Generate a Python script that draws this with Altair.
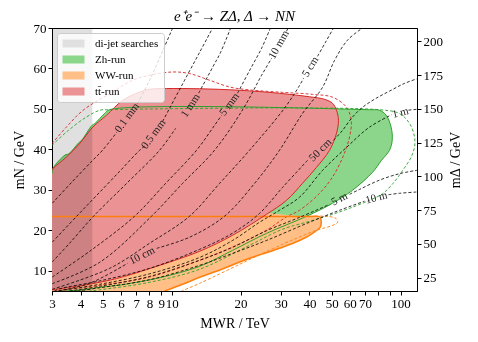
import altair as alt
import pandas as pd

FONT = "Liberation Serif"

# ---------------- axis ranges / ticks ----------------
X_DOMAIN = [3, 118]
MN_DOMAIN = [5, 70]
MD_DOMAIN = [15, 210]
x_tick_values = [3, 4, 5, 6, 7, 8, 9, 10, 20, 30, 40, 50, 60, 70, 80, 90, 100]
x_tick_hidden = [80, 90]
mn_tick_values = [10, 20, 30, 40, 50, 60, 70]
md_tick_values = [25, 50, 75, 100, 125, 150, 175, 200]

categories = ["di-jet searches", "Zh-run", "WW-run", "tt\u0304-run"]
fill_colors = ["#e0e0e0", "#8bd68b", "#ffbf87", "#eb9394"]

# ---------------- di-jet band ----------------
dijet_M = [3.0, 4.5]

# ---------------- Zh-run region (solid) ----------------
zh_M = [3.0, 3.0, 3.03, 3.42, 3.55, 3.92, 4.05, 4.48, 4.62, 5.1, 5.35, 73.17, 80.93, 86.56, 91.0,
        91.95, 89.47, 82.56, 75.44, 61.68, 50.46, 38.85, 25.98, 18.46, 13.25, 9.04, 6.75, 5.85,
        4.85, 4.17, 3.45]
zh_m = [5.0, 34.0, 35.3, 38.6, 38.9, 41.6, 42.3, 45.9, 46.4, 48.9, 49.8, 49.8, 49.66, 48.43, 45.46,
        42.25, 39.78, 37.30, 34.34, 29.89, 26.68, 23.46, 19.26, 15.06, 11.1, 8.39, 6.98, 6.41,
        5.91, 5.35, 5.0]

# ---------------- WW-run region (solid) ----------------
ww_M = [3.0, 3.0, 40.04, 44.27, 44.95, 44.6, 41.26, 36.2, 29.6, 21.9, 15.67, 13.25, 11.16, 9.32]
ww_m = [5.0, 23.4, 23.4, 23.35, 22.47, 20.82, 19.26, 17.47, 15.55, 13.08, 9.87, 8.39, 6.66, 5.0]

# ---------------- tt-run region (solid) ----------------
tt_M = [3.0, 3.03, 3.47, 3.96, 4.53, 5.19, 6.11, 7.25, 8.01, 9.48, 13.25, 19.81, 29.6, 40.04, 46.55,
        50.46, 52.5, 53.55, 52.5, 48.95, 42.95, 37.3, 31.77, 25.98, 18.46, 13.25, 8.01, 5.73, 4.10, 3.0]
tt_m = [34.83, 35.25, 38.12, 41.43, 45.53, 48.43, 52.13, 54.18, 54.85, 55.03, 54.98, 54.61, 53.86, 53.0,
        52.38, 51.39, 49.66, 47.19, 43.98, 39.78, 35.57, 31.62, 27.42, 23.96, 18.77, 14.81, 10.54,
        8.06, 6.41, 5.3]

# ---------------- dashed outlines ----------------
tt_dash_M = [3.0, 3.47, 4.10, 5.36, 6.75, 8.01, 10.10, 11.98, 14.65, 17.91, 21.9, 30.5, 41.26, 50.46,
             57.9, 60.88, 59.85, 55.96, 50.46, 44.27, 36.2, 31.67, 25.91, 18.46, 13.25, 8.01, 4.85,
             3.47, 3.08]
tt_dash_m = [41.43, 45.53, 49.66, 53.79, 57.08, 58.31, 59.13, 58.73, 57.08, 55.42, 54.7, 54.1, 53.6,
             52.9, 50.48, 47.19, 43.06, 38.12, 33.18, 29.15, 24.95, 23.29, 20.0, 15.87, 12.59, 8.46,
             6.41, 5.35, 5.0]
zh_dash_M = [3.0, 3.47, 4.24, 4.85, 5.36, 80.93, 98.95, 109.4, 115.1, 115.1, 111.3, 102.3, 92.5, 83.6,
             73.17, 59.85, 48.95, 40.04, 30.5, 21.9, 13.25, 8.01, 4.85, 4.38]
zh_dash_m = [41.0, 44.3, 48.0, 49.66, 49.8, 49.8, 48.85, 46.45, 43.06, 40.59, 38.12, 34.83, 31.54, 29.07,
             27.42, 25.44, 23.71, 22.23, 20.25, 16.30, 10.37, 7.15, 5.30, 5.0]
ww_dash_M = [36.2, 48.95, 52.36, 53.2, 50.6, 42.8, 36.2, 30.5, 23.43, 19.81, 13.25, 11.05]
ww_dash_m = [23.4, 23.4, 22.89, 22.05, 21.24, 20.0, 18.35, 16.54, 13.58, 11.6, 6.9, 5.0]

# ---------------- decay-length contours (None = label gap) ----------------
c01mm_M = [3.01, 3.69, 4.52, 4.99, 5.75, None, 7.10, 8.01, 9.04, 10.1]
c01mm_m = [26.7, 32.1, 37.3, 39.8, 44.2, None, 51.4, 57.1, 63.75, 70]
c05mm_M = [3.01, 3.85, 4.66, 5.93, 7.25, 7.62, None, 9.13, 9.80, 11.39, 13.25, 15.1]
c05mm_m = [17.1, 23.5, 28.4, 34.6, 39.8, 40.8, None, 46.9, 50.2, 57.1, 64.0, 70]
c1mm_M = [3.01, 3.58, 4.56, 6.36, 8.86, 10.41, None, 13.12, 15.1, 16.36, 18.1]
c1mm_m = [12.2, 16.8, 23.5, 31.6, 39.8, 45.2, None, 53.9, 60.3, 64.0, 70]
c5mm_M = [3.01, 4.38, 6.89, 9.41, 12.85, 15.4, 16.52, None, 19.41, 21.9, 24.71, 27.0]
c5mm_m = [8.46, 14.8, 23.5, 31.6, 39.8, 45.96, 48.4, None, 53.9, 59.5, 65.0, 70]
c10mm_M = [3.01, 4.85, 8.17, 11.16, 15.4, 20.62, 24.71, 27.32, None, 31.77, 32.25]
c10mm_m = [6.83, 12.1, 23.5, 31.6, 39.8, 50.2, 58.3, 62.5, None, 69.2, 70]
c5cm_M = [3.01, 5.36, 8.01, 11.98, 16.2, 21.9, 31.12, 36.2, 37.69, None, 43.39, 47.02, 50.96]
c5cm_m = [5.42, 10.6, 16.8, 23.5, 31.6, 39.8, 50.2, 55.8, 57.6, None, 63.0, 66.5, 70]
c10cm_M = [3.18, 4.38, 6.42, None, 8.60, 11.98, 17.03, 23.03, 29.6, 37.32, 45.63, 51.48, 58.67, 68.2]
c10cm_m = [5.0, 6.9, 11.85, None, 15.55, 18.3, 23.5, 31.6, 39.8, 48.9, 55.35, 62.0, 67.0, 70]
c50cm_M = [3.08, 3.24, 4.85, 8.01, 13.25, 18.46, 24.22, 30.51, 39.25, None, 50.96, 55.79, 61.06, 67.54,
           76.94, 89.47, 104.0, 118]
c50cm_m = [5.0, 5.54, 7.5, 10.6, 15.3, 19.3, 24.2, 30.6, 37.3, None, 42.25, 44.7, 47.7, 50.2, 52.4,
           54.4, 56.3, 57.45]
c1m_M = [3.24, 4.85, 8.01, 13.25, 18.46, 24.22, 29.6, 36.2, 45.63, 58.07, 73.17, 91.3, None, 108.3, 118]
c1m_m = [5.1, 6.66, 9.25, 13.3, 17.5, 22.0, 24.95, 28.2, 34.8, 40.5, 45.5, 48.55, None, 49.7, 49.9]
c5m_M = [3.58, 4.85, 8.01, 13.25, 18.46, 25.98, 36.2, 48.95, None, 59.85, 66.18, 80.93, 98.95, 118]
c5m_m = [5.0, 6.16, 8.6, 12.6, 15.8, 19.9, 23.2, 26.4, None, 28.9, 30.1, 32.4, 34.0, 34.83]
c10m_M = [3.88, 4.85, 8.01, 13.25, 18.46, 25.98, 40.04, 54.13, 69.59, None, 88.6, 98.95, 118]
c10m_m = [5.0, 5.8, 7.8, 11.35, 14.3, 17.5, 22.0, 24.95, 27.2, None, 28.8, 29.15, 29.47]

label_text = ["0.1 mm", "0.5 mm", "1 mm", "5 mm", "10 mm", "5 cm", "10 cm", "50 cm", "1 m", "5 m", "10 m"]
label_M = [6.39, 8.34, 12.1, 17.91, 29.45, 40.45, 7.43, 44.73, 99.95, 54.13, 78.52]
label_m = [47.8, 43.7, 50.8, 51.1, 65.85, 60.4, 13.7, 39.8, 49.0, 27.7, 28.0]
label_angle = [306, 306, 303, 306, 299, 302, 333, 315, 345, 333, 345]

contours = [
    ("0.1 mm", c01mm_M, c01mm_m), ("0.5 mm", c05mm_M, c05mm_m), ("1 mm", c1mm_M, c1mm_m),
    ("5 mm", c5mm_M, c5mm_m), ("10 mm", c10mm_M, c10mm_m), ("5 cm", c5cm_M, c5cm_m),
    ("10 cm", c10cm_M, c10cm_m), ("50 cm", c50cm_M, c50cm_m), ("1 m", c1m_M, c1m_m),
    ("5 m", c5m_M, c5m_m), ("10 m", c10m_M, c10m_m),
]

# ---------------- tables ----------------
def path_df(Ms, ms, cat=""):
    return pd.DataFrame({"M": Ms, "m": ms, "i": list(range(len(Ms))), "cat": cat})

rows = []
for name, Ms, ms in contours:
    seg = 0
    k = 0
    for a, b in zip(Ms, ms):
        if a is None:
            seg += 1
            continue
        rows.append({"M": a, "m": b, "seg": f"{name}-{seg}", "i": k})
        k += 1
contour_df = pd.DataFrame(rows)
label_df = pd.DataFrame({"M": label_M, "m": label_m, "t": label_text, "a": label_angle})

# ---------------- encodings ----------------
hidden_expr = " || ".join(f"datum.value == {v}" for v in x_tick_hidden)
axis_common = dict(labelFont=FONT, labelFontSize=13, labelColor="black", titleFont=FONT,
                   titleFontSize=14, titleFontWeight="normal", titleColor="black", tickColor="black",
                   domainColor="black", tickSize=4, grid=False, labelFlush=False, labelOverlap=False)
xscale = alt.Scale(type="log", domain=X_DOMAIN, nice=False)
yscale = alt.Scale(domain=MN_DOMAIN, nice=False, zero=False)
X = alt.X("M:Q", scale=xscale, axis=alt.Axis(values=x_tick_values, format="d",
          labelExpr=f"({hidden_expr}) ? '' : datum.label", title="MWR / TeV",
          labelPadding=2, titlePadding=6, **axis_common))
Y = alt.Y("m:Q", scale=yscale, axis=alt.Axis(values=mn_tick_values, title="mN / GeV",
          labelPadding=2, titlePadding=7, **axis_common))
cscale = alt.Scale(domain=categories, range=fill_colors)

legend = alt.Legend(title=None, orient="top-left", offset=5, padding=5,
                    fillColor="rgba(255,255,255,0.8)", strokeColor="#cccccc", cornerRadius=3,
                    symbolType="M-2.2,-0.8H2.2V0.8H-2.2Z", symbolSize=100, symbolStrokeWidth=0,
                    symbolOffset=6, labelOffset=16, labelFont=FONT, labelFontSize=11,
                    labelColor="black", rowPadding=4, labelLimit=200, symbolOpacity=1)
COLOR = alt.Color("cat:N", scale=cscale, legend=legend)


def fill_layer(Ms, ms, cat):
    return alt.Chart(path_df(Ms, ms, cat)).mark_line(
        filled=True, interpolate="catmull-rom", clip=True, strokeWidth=0
    ).encode(x=X, y=Y, order="i:Q", color=COLOR)


def edge_layer(Ms, ms, color, dash=None, width=1.0):
    kw = dict(color=color, strokeWidth=width, interpolate="catmull-rom", clip=True)
    if dash:
        kw["strokeDash"] = dash
    return alt.Chart(path_df(Ms, ms)).mark_line(**kw).encode(x=X, y=Y, order="i:Q")


dijet_df = pd.DataFrame({"M": [dijet_M[0]], "M2": [dijet_M[1]], "m": [MN_DOMAIN[0]],
                         "m2": [MN_DOMAIN[1]], "cat": [categories[0]]})
dijet = alt.Chart(dijet_df).mark_rect(blend="multiply").encode(
    x=X, x2="M2:Q", y=Y, y2="m2:Q", color=COLOR)

green_fill = fill_layer(zh_M, zh_m, categories[1])
orange_fill = fill_layer(ww_M, ww_m, categories[2])
red_fill = fill_layer(tt_M, tt_m, categories[3])

red_dash = edge_layer(tt_dash_M, tt_dash_m, "#d62728", dash=[3, 2], width=0.9)
green_dash = edge_layer(zh_dash_M, zh_dash_m, "#2ca02c", dash=[3, 2], width=0.9)
orange_dash = edge_layer(ww_dash_M, ww_dash_m, "#ff7f0e", dash=[3, 2], width=0.9)

green_edge = edge_layer(zh_M[1:], zh_m[1:], "#2ca02c", width=1.0)
orange_edge = edge_layer(ww_M[1:], ww_m[1:], "#ff7f0e", width=1.5)
red_edge = edge_layer(tt_M, tt_m, "#d62728", width=1.0)

contour_lines = alt.Chart(contour_df).mark_line(
    color="black", strokeWidth=0.8, strokeDash=[3, 2], interpolate="catmull-rom", clip=True
).encode(x=X, y=Y, detail="seg:N", order="i:Q")

labels = alt.Chart(label_df).mark_text(font=FONT, fontSize=11, color="#222222").encode(
    x=X, y=Y, text="t:N", angle=alt.Angle("a:Q", scale=None))

main = alt.layer(green_fill, orange_fill, red_fill, dijet, red_dash, green_dash, orange_dash,
                 green_edge, orange_edge, red_edge, contour_lines, labels)

right_df = pd.DataFrame({"md": md_tick_values})
right_axis = alt.Chart(right_df).mark_point(opacity=0).encode(
    y=alt.Y("md:Q", scale=alt.Scale(domain=MD_DOMAIN, nice=False, zero=False),
            axis=alt.Axis(orient="right", values=md_tick_values, title="m\u0394 / GeV",
                          titleAngle=270, titleBaseline="top", labelPadding=2, titlePadding=6,
                          **axis_common)))

chart = alt.layer(main, right_axis).resolve_scale(y="independent").properties(
    width=365, height=263,
    title=alt.TitleParams("e\u207ae\u207b \u2192 Z\u0394, \u0394 \u2192 NN", font=FONT, fontSize=15,
                          fontStyle="italic", fontWeight="normal", anchor="middle", offset=-2,
                          color="black"),
    padding={"left": 44, "top": 20, "right": 53, "bottom": 45},
    autosize=alt.AutoSizeParams(type="none"),
).configure_view(stroke="black", strokeWidth=1)

chart.save("out.html", embed_options={"renderer": "svg", "actions": False})
